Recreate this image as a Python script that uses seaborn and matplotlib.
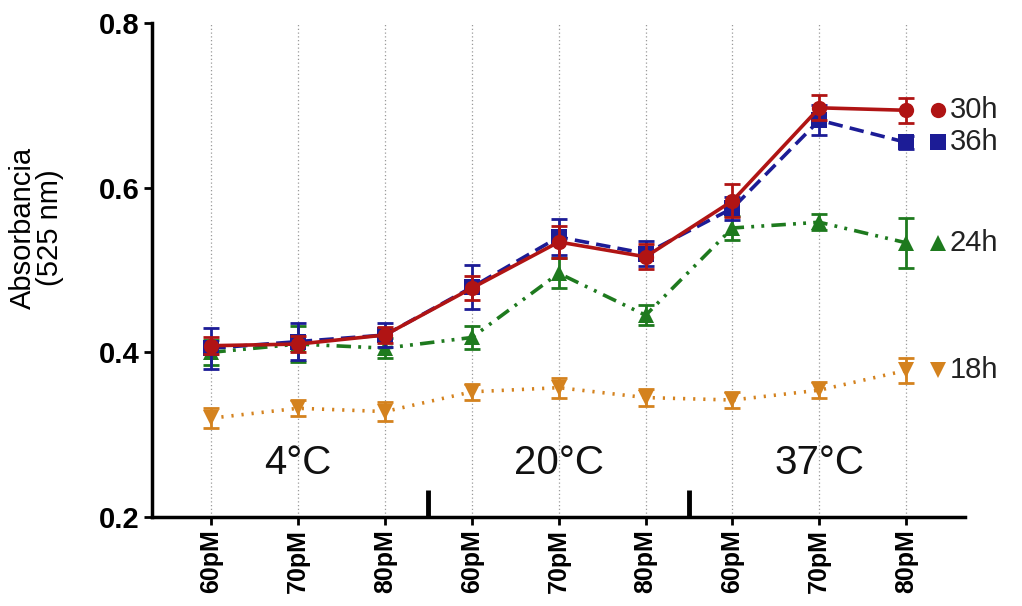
import numpy as np
import pandas as pd
import matplotlib
matplotlib.use("Agg")
import matplotlib.pyplot as plt
import seaborn as sns

# ---- data ----
conc_labels = ["60pM", "70pM", "80pM"] * 3
temps = ["4°C", "20°C", "37°C"]
series_names = ["18h", "24h", "36h", "30h"]

vals_18h = [0.320, 0.332, 0.328, 0.352, 0.357, 0.345, 0.342, 0.354, 0.378]
err_18h = [0.012, 0.010, 0.012, 0.010, 0.012, 0.010, 0.010, 0.010, 0.015]
vals_24h = [0.400, 0.410, 0.405, 0.418, 0.496, 0.445, 0.551, 0.558, 0.533]
err_24h = [0.015, 0.022, 0.012, 0.014, 0.018, 0.012, 0.014, 0.010, 0.030]
vals_36h = [0.405, 0.413, 0.421, 0.479, 0.540, 0.520, 0.575, 0.682, 0.655]
err_36h = [0.025, 0.022, 0.014, 0.027, 0.022, 0.015, 0.014, 0.018, 0.008]
vals_30h = [0.408, 0.410, 0.421, 0.478, 0.534, 0.516, 0.584, 0.697, 0.694]
err_30h = [0.010, 0.010, 0.010, 0.015, 0.020, 0.015, 0.020, 0.015, 0.015]

colors = {"18h": "#d4821e", "24h": "#1e7a1e", "36h": "#1c1c96", "30h": "#b01414"}
markers = {"18h": "v", "24h": "^", "36h": "s", "30h": "o"}
dashes = {"18h": (0.6, 2.2), "24h": (4, 2, 0.8, 2, 0.8, 2), "36h": (4, 2), "30h": ""}

vals = {"18h": vals_18h, "24h": vals_24h, "36h": vals_36h, "30h": vals_30h}
errs = {"18h": err_18h, "24h": err_24h, "36h": err_36h, "30h": err_30h}

rows = []
for s in series_names:
    for i, (v, e) in enumerate(zip(vals[s], errs[s])):
        rows.append({"pos": i, "value": v, "err": e, "series": s})
df = pd.DataFrame(rows)

# ---- figure ----
sns.set_theme(style="white", rc={"text.color": "black", "axes.labelcolor": "black",
                                 "xtick.color": "black", "ytick.color": "black"})
plt.rcParams["font.family"] = ["Liberation Sans", "DejaVu Sans"]

fig = plt.figure(figsize=(10.22, 6.06), dpi=100)
ax = fig.add_axes([0.149, 0.147, (965 - 152) / 1022, 0.962 - 0.147])

# vertical dotted grid
for i in range(len(conc_labels)):
    ax.axvline(i, color="#9a9a9a", lw=0.9, ls=(0, (1, 2)), zorder=0)

for z, s in enumerate(series_names):
    sub = df[df.series == s]
    ax.errorbar(sub["pos"], sub["value"], yerr=sub["err"], fmt="none",
                ecolor=colors[s], elinewidth=2, capsize=6, capthick=2, zorder=2 + z)
    sns.lineplot(data=sub, x="pos", y="value", ax=ax, color=colors[s], lw=2.6,
                 marker=markers[s], markersize=11, markeredgewidth=0,
                 dashes=False, zorder=2 + z, errorbar=None)
    line = ax.lines[-1]
    if dashes[s]:
        line.set_dashes(dashes[s])
    # right side label
    yl = vals[s][-1]
    ax.plot([8.37], [yl], marker=markers[s], color=colors[s], markersize=11,
            markeredgewidth=0, clip_on=False, zorder=5)
    ax.text(8.5, yl, s, fontsize=21, va="center", ha="left", color="#222222",
            clip_on=False)

# temperature labels
for k, t in enumerate(temps):
    ax.text(3 * k + 1, 0.266, t, fontsize=29, ha="center", va="center", color="#111111")

# group separators
for xs in [2.5, 5.5]:
    ax.plot([xs, xs], [0.2, 0.233], color="black", lw=3.5, solid_capstyle="butt",
            clip_on=False, zorder=6)

ax.set_xlim(-0.68, 8.68)
ax.set_ylim(0.2, 0.8)
ax.set_xticks(range(len(conc_labels)))
ax.set_xticklabels(conc_labels, rotation=90, fontsize=18, fontweight="bold")
ax.set_yticks([0.2, 0.4, 0.6, 0.8])
ax.set_yticklabels(["0.2", "0.4", "0.6", "0.8"], fontsize=21, fontweight="bold")
ax.set_xlabel("")
ax.set_ylabel("Absorbancia\n(525 nm)", fontsize=21, linespacing=1.0, color="black")
ax.yaxis.set_label_coords(-0.108, 0.585)
ax.tick_params(axis="both", direction="out", length=6, width=2, color="black",
               labelcolor="black", bottom=True, left=True, pad=3)
for sp in ["top", "right"]:
    ax.spines[sp].set_visible(False)
for sp in ["left", "bottom"]:
    ax.spines[sp].set_color("black")
    ax.spines[sp].set_linewidth(2.5)

fig.savefig("out.png", dpi=100)
